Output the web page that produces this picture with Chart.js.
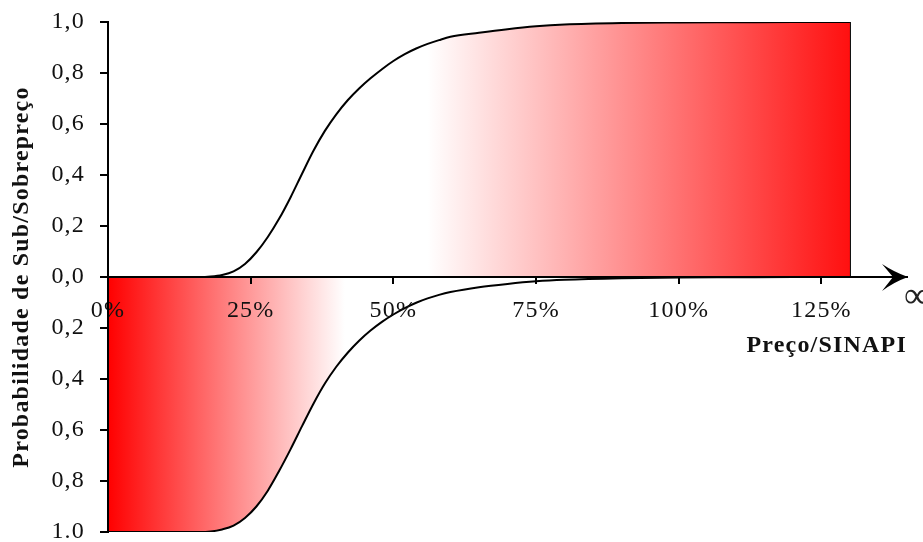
<!DOCTYPE html>
<html lang="pt-BR">
<head>
<meta charset="utf-8">
<title>Probabilidade de Sub/Sobrepreço</title>
<script src="https://cdn.jsdelivr.net/npm/chart.js@4.4.1/dist/chart.umd.min.js"></script>
<style>
    html, body { margin: 0; padding: 0; background: #fff; overflow: hidden; }
    #box { width: 923px; height: 542px; }
</style>
</head>
<body>
<div id="box"><canvas id="grafico"></canvas></div>
<script>
// Preço/SINAPI (%)
const precos = [0, 10, 16, 18, 20, 22, 24, 26, 28, 30, 32, 34, 36, 38, 40, 42, 44, 46, 48, 50, 52, 54, 56, 58, 60, 65, 70, 75, 80, 90, 100, 110, 120, 130];

// probabilidade de sobrepreço (metade de cima)
const probSobrepreco = [0, 0, 0, 0.002, 0.008, 0.022, 0.051, 0.097, 0.157, 0.229, 0.313, 0.405, 0.495, 0.573, 0.638, 0.693, 0.739, 0.779, 0.815, 0.847, 0.874, 0.896, 0.914, 0.929, 0.942, 0.958, 0.972, 0.983, 0.99, 0.996, 0.998, 0.999, 1, 1];

// probabilidade de subpreço (metade de baixo, desenhada para baixo)
const probSubpreco = [1, 1, 1, 0.998, 0.99, 0.975, 0.945, 0.9, 0.838, 0.76, 0.675, 0.585, 0.497, 0.418, 0.352, 0.297, 0.25, 0.21, 0.176, 0.147, 0.122, 0.101, 0.084, 0.07, 0.059, 0.04, 0.027, 0.017, 0.011, 0.005, 0.002, 0.001, 0, 0];

// limite direito da área de sobrepreço
const limitePreco = 130;

// eixos
const xTicks = [0, 25, 50, 75, 100, 125];
const xTickLabels = ['0%', '25%', '50%', '75%', '100%', '125%'];
const yTicks = [-1, -0.8, -0.6, -0.4, -0.2, 0, 0.2, 0.4, 0.6, 0.8, 1];
const yTickLabels = ['1.0', '0,8', '0,6', '0,4', '0,2', '0,0', '0,2', '0,4', '0,6', '0,8', '1,0'];

const serif = '"Liberation Serif", "Times New Roman", serif';

// gradiente horizontal entre dois valores de x
function gradiente(context, de, ate, corDe, corAte) {
    const chart = context.chart;
    if (!chart.chartArea) return corAte;
    const sx = chart.scales.x;
    const g = chart.ctx.createLinearGradient(sx.getPixelForValue(de), 0, sx.getPixelForValue(ate), 0);
    g.addColorStop(0, corDe);
    g.addColorStop(1, corAte);
    return g;
}

// espaçamento entre letras (texto do original é mais largo)
const espacamento = {
    id: 'espacamento',
    beforeLayout(chart) { chart.ctx.letterSpacing = '1.2px'; },
    beforeDraw(chart) { chart.ctx.letterSpacing = '1.2px'; }
};

// ponta de seta no eixo x e símbolo de infinito (cortado na borda, como no original)
const setaEixo = {
    id: 'setaEixo',
    afterDraw(chart) {
        const ctx = chart.ctx;
        const x = chart.scales.x.right + 1;
        const y = chart.scales.y.getPixelForValue(0);
        ctx.save();
        ctx.fillStyle = '#000';
        ctx.beginPath();
        ctx.moveTo(x, y);
        ctx.quadraticCurveTo(x - 14, y - 5, x - 26, y - 13);
        ctx.lineTo(x - 15, y);
        ctx.lineTo(x - 26, y + 14);
        ctx.quadraticCurveTo(x - 14, y + 5, x, y);
        ctx.closePath();
        ctx.fill();
        ctx.letterSpacing = '0px';
        ctx.font = '36px ' + serif;
        ctx.textBaseline = 'middle';
        ctx.textAlign = 'left';
        ctx.fillStyle = '#222';
        ctx.fillText('\u221E', x - 4, y + 21);
        ctx.restore();
    }
};

const ctx = document.getElementById('grafico').getContext('2d');

new Chart(ctx, {
    type: 'line',
    data: {
        datasets: [
            {
                label: 'Sobrepreço',
                data: precos.map((p, i) => ({ x: p, y: probSobrepreco[i] })),
                borderColor: '#000',
                borderWidth: 2,
                pointRadius: 0,
                cubicInterpolationMode: 'monotone',
                fill: 'origin',
                backgroundColor: (c) => gradiente(c, 56, 130, '#ffffff', '#ff1010')
            },
            {
                label: 'Subpreço',
                data: precos.map((p, i) => ({ x: p, y: -probSubpreco[i] })),
                borderColor: '#000',
                borderWidth: 2,
                pointRadius: 0,
                cubicInterpolationMode: 'monotone',
                fill: 'origin',
                backgroundColor: (c) => gradiente(c, 0, 41.5, '#ff0000', '#ffffff')
            },
            {
                label: 'Limite',
                data: [{ x: limitePreco, y: 0 }, { x: limitePreco, y: 1 }],
                borderColor: '#000',
                borderWidth: 2,
                pointRadius: 0,
                fill: false
            }
        ]
    },
    options: {
        responsive: true,
        maintainAspectRatio: false,
        animation: false,
        layout: { padding: { left: 0, top: 22, right: 16, bottom: 10 } },
        font: { family: serif },
        plugins: {
            legend: { display: false },
            tooltip: { enabled: false }
        },
        scales: {
            x: {
                type: 'linear',
                position: { y: 0 },
                min: 0,
                max: 140,
                afterBuildTicks: (s) => { s.ticks = xTicks.map(v => ({ value: v })); },
                afterFit: (s) => { s.paddingLeft = 0; s.paddingRight = 0; },
                border: { display: true, color: '#000', width: 2, z: 1 },
                grid: { display: true, drawOnChartArea: false, drawTicks: true, tickLength: 6, color: '#000', lineWidth: 2, z: 1 },
                ticks: {
                    z: 1,
                    autoSkip: false,
                    maxRotation: 0,
                    padding: 13,
                    color: '#111',
                    font: { family: serif, size: 24 },
                    callback: (v, i) => xTickLabels[i]
                },
                title: {
                    display: true,
                    text: 'Preço/SINAPI',
                    align: 'end',
                    color: '#111',
                    padding: { top: -6, bottom: 0 },
                    font: { family: serif, size: 24, weight: 'bold' }
                }
            },
            y: {
                type: 'linear',
                position: 'left',
                min: -1,
                max: 1,
                afterBuildTicks: (s) => { s.ticks = yTicks.map(v => ({ value: v })); },
                afterFit: (s) => { s.width = 108; s.paddingTop = 0; s.paddingBottom = 0; },
                border: { display: true, color: '#000', width: 2, z: 1 },
                grid: { display: true, drawOnChartArea: false, drawTicks: true, tickLength: 8, color: '#000', lineWidth: 2, z: 1 },
                ticks: {
                    z: 1,
                    autoSkip: false,
                    padding: 15,
                    color: '#111',
                    font: { family: serif, size: 24 },
                    callback: (v, i) => yTickLabels[i]
                },
                title: {
                    display: true,
                    text: 'Probabilidade de Sub/Sobrepreço',
                    color: '#111',
                    padding: { top: 7, bottom: 0 },
                    font: { family: serif, size: 24, weight: 'bold' }
                }
            }
        }
    },
    plugins: [espacamento, setaEixo]
});
</script>
</body>
</html>
